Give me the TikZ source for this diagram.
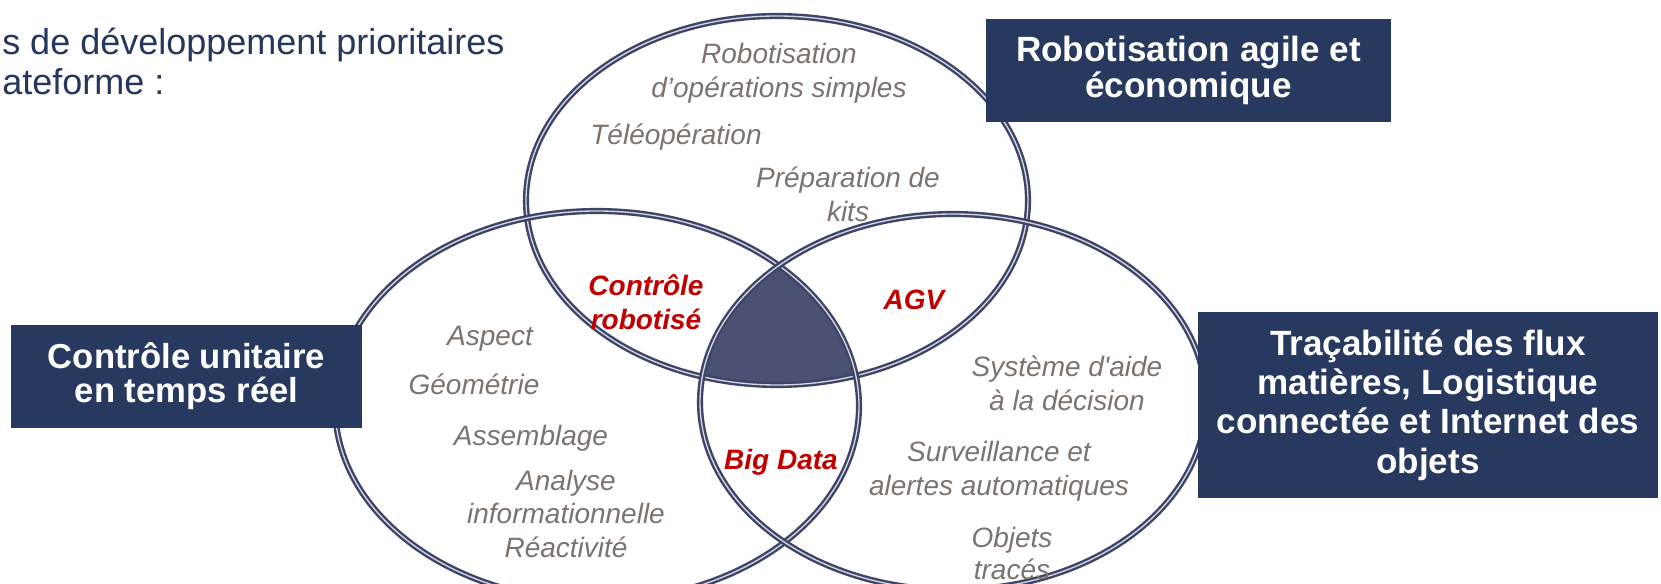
\documentclass[tikz,border=0pt]{standalone}
\usepackage{fontspec}
\setmainfont{Liberation Sans}
\definecolor{navy}{RGB}{40,57,96}
\definecolor{titlecol}{RGB}{38,55,92}
\definecolor{greytxt}{RGB}{125,115,108}
\definecolor{redtxt}{RGB}{192,0,0}
\definecolor{darkfill}{RGB}{75,81,114}
\definecolor{ringdark}{RGB}{62,68,102}
\definecolor{ringlight}{RGB}{212,215,228}
\begin{document}
\begin{tikzpicture}[x=0.75pt,y=-0.75pt,
  ringouter/.style={draw=ringdark,line width=4.6pt},
  ringinner/.style={draw=ringlight,line width=1pt},
  box/.style={fill=navy,text=white,align=center,inner sep=0pt},
  item/.style={text=greytxt,font=\itshape\fontsize{21}{25.5}\selectfont,align=center,anchor=base,inner sep=0pt},
  hot/.style={text=redtxt,font=\bfseries\itshape\fontsize{21}{25.5}\selectfont,align=center,anchor=base,inner sep=0pt},
]
\useasboundingbox (0,0) rectangle (1661,584);
\fill[white] (0,0) rectangle (1661,584);

% triple intersection
\begin{scope}
  \clip (777,200.5) ellipse [x radius=251, y radius=184.5];
  \clip (597,406) ellipse [x radius=262, y radius=195];
  \fill[darkfill] (953,402) ellipse [x radius=253, y radius=188];
\end{scope}

% rings
\foreach \cx/\cy/\rx/\ry in {777/200.5/251/184.5, 597/406/262/195, 953/402/253/188}{
  \draw[ringouter] (\cx,\cy) ellipse [x radius=\rx, y radius=\ry];
  \draw[ringinner] (\cx,\cy) ellipse [x radius=\rx, y radius=\ry];
}

% title (anchor on the baseline of its last line)
\node[anchor=base west, text=titlecol, font=\fontsize{27}{30.5}\selectfont, align=left, inner sep=0pt] (title) at (2,95) {s de développement prioritaires\\ateforme :};

% boxes
\node[box, font=\bfseries\fontsize{26.3}{27}\selectfont, minimum width=303.75pt, minimum height=77.25pt] (b1) at (1188.5,70.5) {Robotisation agile et\\économique};
\node[box, font=\bfseries\fontsize{26}{25.5}\selectfont, minimum width=263.25pt, minimum height=77.25pt] (b2) at (186.5,376.5) {Contrôle unitaire\\en temps réel};
\node[box, font=\bfseries\fontsize{26.3}{29.5}\selectfont, minimum width=345pt, minimum height=139.5pt] (b3) at (1428,405) {Traçabilité des flux\\matières, Logistique\\connectée et Internet des\\objets};

% items (anchor on the baseline of the last line)
\node[item] (i1) at (779,98) {Robotisation\\d’opérations simples};
\node[item] (i2) at (676,145) {Téléopération};
\node[item] (i3) at (848,222) {Préparation de\\kits};
\node[hot] (h1) at (646,330) {Contrôle\\robotisé};
\node[hot] (h2) at (914,310) {AGV};
\node[item] (i4) at (490,346) {Aspect};
\node[item] (i5) at (474,395) {Géométrie};
\node[item] (i6) at (531,446) {Assemblage};
\node[item, font=\itshape\fontsize{21}{25}\selectfont] (i7) at (566,557) {Analyse\\informationnelle\\Réactivité};
\node[hot] (h3) at (781,470) {Big Data};
\node[item] (i8) at (1067,411) {Système d\textquotesingle aide\\à la décision};
\node[item] (i9) at (999,496) {Surveillance et\\alertes automatiques};
\node[item, font=\itshape\fontsize{21}{24.5}\selectfont] (i10) at (1012,580) {Objets\\tracés};
\end{tikzpicture}
\end{document}
